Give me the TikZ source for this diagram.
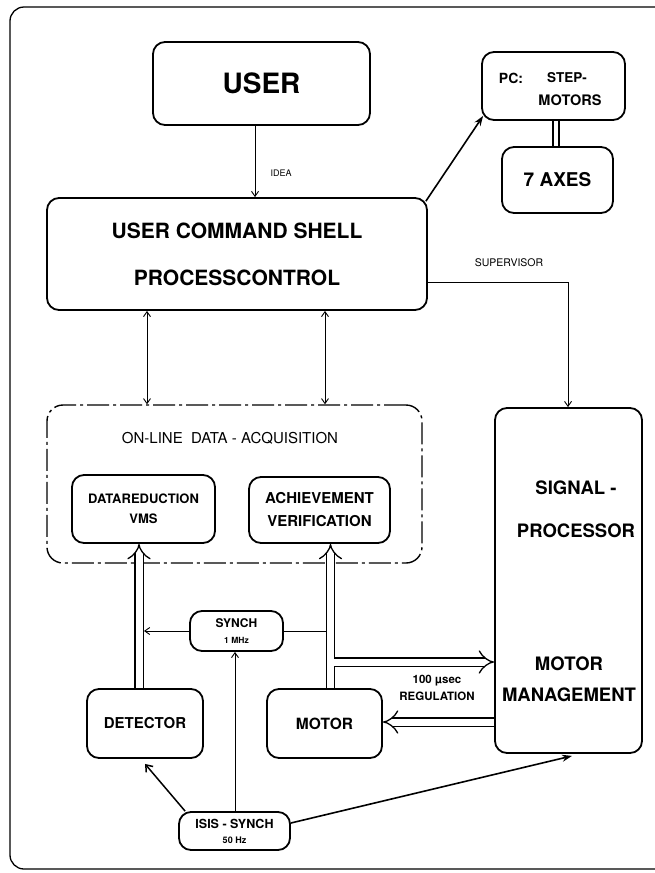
\documentclass[tikz,border=0pt]{standalone}
\usepackage{fontspec}
\setsansfont{TeX Gyre Heros}
\usetikzlibrary{arrows.meta,calc}
\newcommand\myfont[2]{\fontsize{#1}{#2}\selectfont\sffamily\bfseries}
\newcommand\myreg[2]{\fontsize{#1}{#2}\selectfont\sffamily}
\begin{document}
\begin{tikzpicture}[x=1pt,y=-1pt,
  box/.style={draw, line width=1.8pt, rounded corners=12pt, inner sep=0pt, align=center},
  lbl/.style={inner sep=0pt, align=center},
  wire/.style={line width=0.9pt},
  arr/.style={wire, -{Straight Barb[length=5pt,width=7pt]}},
  biarr/.style={wire, {Straight Barb[length=5pt,width=7pt]}-{Straight Barb[length=5pt,width=7pt]}},
  boldarr/.style={line width=1.6pt, -{Stealth[length=10pt,width=7pt]}},
  barbarr/.style={line width=1.5pt, -{Straight Barb[length=6pt,width=9pt]}},
  dbl/.style={double, double distance=7pt, line width=1.3pt, -{Implies}},
  dblplain/.style={double, double distance=4.5pt, line width=1.3pt},
  daqstyle/.style={draw, line width=1.4pt, rounded corners=16pt, dash pattern=on 22pt off 4pt on 3pt off 4pt},
]
\useasboundingbox (0,0) rectangle (655,873);
\draw[line width=1.3pt, rounded corners=14pt] (10,7) rectangle (720,869);

% boxes
\node[box, minimum width=217pt, minimum height=83pt, font=\myfont{28}{32}] (user) at (261.5,83.5) {USER};
\node[box, minimum width=143pt, minimum height=68pt] (pc) at (553.5,86) {};
\node[lbl, font=\myfont{14}{16}] (pct) at (511,78) {PC:};
\node[lbl, font=\myfont{13.5}{16}] (stept) at (567,78) {STEP-};
\node[lbl, font=\myfont{14.5}{16}] (motorst) at (570,100) {MOTORS};
\node[box, minimum width=111pt, minimum height=66pt, font=\myfont{19}{22}] (axes) at (557.5,180) {7 AXES};
\node[box, minimum width=380pt, minimum height=112pt, font=\myfont{21}{47}] (ucs) at (237,254) {USER COMMAND SHELL\\PROCESSCONTROL};
\node[daqstyle, minimum width=375pt, minimum height=158pt] (daq) at (234.5,484) {};
\node[lbl, font=\myreg{15}{18}] (daqt) at (230,438) {ON-LINE\ \ DATA - ACQUISITION};
\node[box, minimum width=143pt, minimum height=68pt, font=\myfont{13}{20}] (dred) at (143.5,509) {DATAREDUCTION\\VMS};
\node[box, minimum width=141pt, minimum height=66pt, font=\myfont{15}{23}] (ach) at (319.5,510) {ACHIEVEMENT\\VERIFICATION};
\node[box, minimum width=147pt, minimum height=345pt] (sig) at (568.5,580.5) {};
\node[lbl, font=\myfont{18.5}{43}] (sigt) at (576,509) {SIGNAL -\\PROCESSOR};
\node[lbl, font=\myfont{18.5}{31}] (mmt) at (569,679) {MOTOR\\MANAGEMENT};
\node[box, minimum width=93pt, minimum height=40pt, font=\myfont{12}{16}] (synch) at (236.5,631) {SYNCH\\{\fontsize{8.5}{9}\selectfont 1 MHz}};
\node[box, minimum width=116pt, minimum height=69pt, font=\myfont{15}{18}] (det) at (145,723.5) {DETECTOR};
\node[box, minimum width=115pt, minimum height=69pt, font=\myfont{15.5}{18}] (mot) at (324.5,723.5) {MOTOR};
\node[box, minimum width=111pt, minimum height=38pt, font=\myfont{12.5}{15}] (isis) at (234.5,831) {ISIS - SYNCH\\{\fontsize{9}{9}\selectfont 50 Hz}};

% labels
\node[lbl, font=\myreg{9}{10}] (idea) at (281,173) {IDEA};
\node[lbl, font=\myreg{10.5}{12}] (superv) at (509,263) {SUPERVISOR};
\node[lbl, font=\myfont{11.5}{17}] (regl) at (437,688) {100 µsec\\REGULATION};

% helper coordinates
\coordinate (xi) at (255,0);
\coordinate (xd) at (556,0);
\coordinate (ys) at (0,282);
\coordinate (xs) at (568,0);
\coordinate (xa) at (147,0);
\coordinate (xb) at (325,0);
\coordinate (xdl) at (139,0);
\coordinate (xml) at (330.5,0);
\coordinate (bstart) at (334,662);
\coordinate (ym) at (0,722);
\coordinate (xdr) at (144,0);
\coordinate (xmll) at (326,0);
\coordinate (xsy) at (235,0);

% connectors
\draw[arr] (user.south -| xi) -- (ucs.north -| xi);
\draw[boldarr] ($(ucs.north east)+(-2,4)$) -- ($(pc.south west)+(2,-5)$);
\draw[dblplain] (pc.south -| xd) -- (axes.north -| xd);
\draw[arr] (ucs.east |- ys) -| (sig.north -| xs);
\draw[biarr] (ucs.south -| xa) -- (daq.north -| xa);
\draw[biarr] (ucs.south -| xb) -- (daq.north -| xb);
\draw[dbl] (det.north -| xdl) -- (dred.south -| xdl);
\draw[dbl] (mot.north -| xml) -- (ach.south -| xml);
\draw[dbl] (bstart) -- (sig.west |- bstart);
\draw[dbl] (sig.west |- ym) -- (mot.east |- ym);
\draw[arr] (synch.west) -- (synch.west -| xdr);
\draw[wire] (synch.east) -- (synch.east -| xmll);
\draw[arr] (isis.north -| xsy) -- (synch.south -| xsy);
\draw[barbarr] ($(isis.north west)+(7,0)$) -- ($(det.south)+(0,5)$);
\draw[boldarr] ($(isis.east)+(0,-8)$) -- ($(sig.south)+(3.5,2)$);
\end{tikzpicture}
\end{document}
